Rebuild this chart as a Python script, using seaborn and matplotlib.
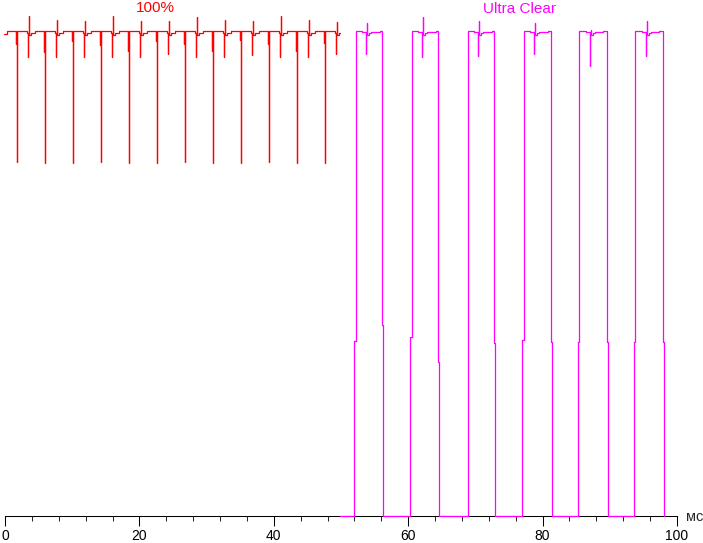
import numpy as np
import pandas as pd
import matplotlib
matplotlib.use("Agg")
import matplotlib.pyplot as plt
import seaborn as sns

# --- values (time in ms, level in % of full brightness) ---
red_start, red_end = -0.15, 49.8
red_spike_t = [1.83, 6.00, 10.16, 14.33, 18.50, 22.67, 26.83, 31.00, 35.17, 39.33, 43.50, 47.67]
red_spike_low = [73.1, 72.9, 72.9, 73.1, 72.9, 72.9, 73.1, 72.9, 72.9, 73.1, 72.9, 72.9]
red_predip = [97.4, 95.8, 97.9, 97.2, 96.0, 97.9, 97.3, 95.9, 98.3, 97.3, 95.9, 97.5]
red_mid_low = [94.6, 94.8, 94.8, 94.6, 94.8, 95.3, 94.6, 94.8, 95.1, 94.6, 94.8, 95.3]
red_mid_high = [103.2, 102.3, 102.1, 103.2, 102.1, 102.1, 103.0, 102.3, 102.1, 103.2, 102.3, 102.0]

mag_start = 49.85
mag_rise = [52.19, 60.52, 68.85, 77.16, 85.46, 93.79]
mag_fall = [56.15, 64.48, 72.81, 81.21, 89.54, 97.87]
mag_rise_kink = [36.2, 36.9, 0.0, 36.3, 36.0, 36.0]
mag_fall_kink = [39.4, 31.7, 35.6, 36.0, 36.0, 36.0]
mag_down = [95.3, 94.8, 95.0, 95.3, 92.9, 95.0]
mag_up = [101.8, 102.9, 102.1, 101.7, 100.3, 102.1]

xticks_major = [0, 20, 40, 60, 80, 100]
unit_label = "мс"
labels = ["100%", "Ultra Clear"]


def red_trace():
    pts = [(red_start, 99.5), (0.3, 99.5), (0.3, 100)]
    for P, lo, dip, ml, mh in zip(red_spike_t, red_spike_low, red_predip, red_mid_low, red_mid_high):
        d = P - 0.2
        pts += [(d, 100), (d, dip), (d, 100)]
        pts += [(P, 100), (P, lo), (P, 100)]
        pts += [(P + 1.40, 100), (P + 1.40, 99.6)]
        pts += [(P + 1.59, 99.6), (P + 1.59, ml), (P + 1.59, 99.4)]
        pts += [(P + 1.74, 99.4), (P + 1.74, mh), (P + 1.74, 99.2)]
        pts += [(P + 2.1, 99.2), (P + 2.1, 99.6)]
        pts += [(P + 2.6, 99.6), (P + 2.6, 100)]
    pts = [p for p in pts if p[0] <= red_end]
    pts.append((red_end, pts[-1][1]))
    return pd.DataFrame(pts, columns=["t", "y"])


def mag_trace():
    pts = [(mag_start, 0)]
    for R, F, rk, fk, dn, up in zip(mag_rise, mag_fall, mag_rise_kink, mag_fall_kink, mag_down, mag_up):
        pts += [(R - 0.2, 0), (R - 0.2, rk), (R, rk), (R, 100.1)]
        pts += [(R + 0.98, 100.1), (R + 0.98, 99.85)]
        pts += [(R + 1.53, 99.85), (R + 1.53, dn), (R + 1.53, 99.5)]
        pts += [(R + 1.73, 99.5), (R + 1.73, up), (R + 1.73, 99.3)]
        pts += [(R + 2.0, 99.3), (R + 2.0, 99.6)]
        pts += [(R + 2.33, 99.6), (R + 2.33, 99.85)]
        pts += [(R + 3.6, 99.85), (R + 3.6, 100.1)]
        pts += [(F, 100.1), (F, fk), (F + 0.15, fk), (F + 0.15, 0)]
    return pd.DataFrame(pts, columns=["t", "y"])


sns.set_style("white")
plt.rcParams['font.family'] = ['Liberation Sans', 'DejaVu Sans']

fig = plt.figure(figsize=(7.03, 5.43), dpi=100)
ax = fig.add_axes([0, 0, 1, 1])

red = red_trace()
mag = mag_trace()
sns.lineplot(data=red, x="t", y="y", sort=False, estimator=None, color="#ff0000", lw=0.9, ax=ax)
sns.lineplot(data=mag, x="t", y="y", sort=False, estimator=None, color="#ff00ff", lw=0.9, ax=ax)

# pixel mapping: 0 ms at x=5px, 6.72 px/ms; level 0 at y=516px, 4.847 px/%
ax.set_xlim(-5 / 6.72, (703 - 5) / 6.72)
ax.set_ylim(-(543 - 516) / 4.847, 516 / 4.847)

for s in ["top", "right", "left"]:
    ax.spines[s].set_visible(False)
ax.spines["bottom"].set_position(("data", 0))
ax.spines["bottom"].set_bounds(0, 100)
ax.spines["bottom"].set_linewidth(0.75)
ax.spines["bottom"].set_color("black")
ax.spines["bottom"].set_zorder(0)

ax.set_xticks(xticks_major)
ax.set_xticks(np.arange(0, 101, 4), minor=True)
ax.set_yticks([])
ax.tick_params(axis="x", which="major", length=7.2, width=0.75, direction="out",
               pad=2.5, labelsize=10, colors="black", bottom=True)
ax.tick_params(axis="x", which="minor", length=3.6, width=0.75, direction="out", bottom=True)
ax.set_xlabel("")
ax.set_ylabel("")
ax.set_facecolor("white")

ax.text((686 - 5) / 6.72, (516 - 521) / 4.847, unit_label, fontsize=10.5, ha="left", va="baseline")
ax.text(22.4, 103.9, labels[0], fontsize=11, color="#ff0000", ha="center", va="baseline")
ax.text(76.5, 103.8, labels[1], fontsize=11, color="#ff00ff", ha="center", va="baseline")

fig.savefig("out.png", dpi=100, facecolor="white")
